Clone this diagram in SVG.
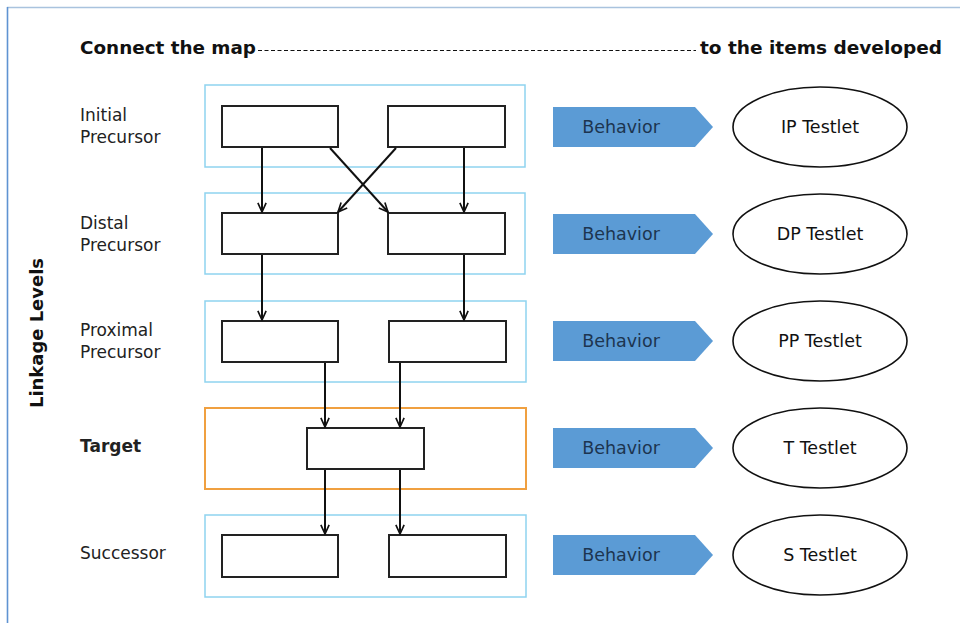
<svg xmlns="http://www.w3.org/2000/svg" width="960" height="623" viewBox="0 0 960 623">
  <style>
    .lbl { font-family: "DejaVu Sans", "Liberation Sans", sans-serif; font-size: 17px; fill: #222; }
    .bold { font-weight: bold; }
    .title { font-family: "DejaVu Sans", "Liberation Sans", sans-serif; font-size: 17px; font-weight: bold; fill: #111; }
    .level { fill: none; stroke: #8fd3ef; stroke-width: 1.5; }
    .level-target { fill: none; stroke: #f0a040; stroke-width: 2; }
    .box { fill: #fff; stroke: #222; stroke-width: 2; }
    .beh { fill: #5b9bd5; }
    .beh-text { font-family: "DejaVu Sans", "Liberation Sans", sans-serif; font-size: 17.5px; fill: #1d3550; text-anchor: middle; }
    .oval { fill: #fff; stroke: #111; stroke-width: 1.6; }
    .oval-text { font-family: "DejaVu Sans", "Liberation Sans", sans-serif; font-size: 17.5px; fill: #111; text-anchor: middle; }
    .conn { stroke: #111; stroke-width: 2; fill: none; marker-end: url(#open); }
  </style>
  <defs>
    <marker id="open" viewBox="0 0 12 12" refX="11" refY="6" markerWidth="11" markerHeight="11" markerUnits="userSpaceOnUse" orient="auto">
      <path d="M1,1.5 L11,6 L1,10.5" fill="none" stroke="#111" stroke-width="1.8"/>
    </marker>
  </defs>

  <rect x="0" y="0" width="960" height="623" fill="#fff"/>
  <!-- frame -->
  <line x1="7" y1="7.5" x2="960" y2="7.5" stroke="#a9c3de" stroke-width="1.3"/>
  <line x1="7.5" y1="7" x2="7.5" y2="623" stroke="#5f93d2" stroke-width="1.6"/>

  <!-- heading -->
  <g id="heading">
    <text class="title" x="80" y="54" textLength="176" lengthAdjust="spacingAndGlyphs">Connect the map</text>
    <line x1="258" y1="50.5" x2="696" y2="50.5" stroke="#111" stroke-width="1.2" stroke-dasharray="4 2.5"/>
    <text class="title" x="700" y="54" textLength="242" lengthAdjust="spacingAndGlyphs">to the items developed</text>
  </g>

  <!-- axis label -->
  <g id="axis-label">
    <text class="title" transform="translate(43,333) rotate(-90)" text-anchor="middle" textLength="150" lengthAdjust="spacingAndGlyphs">Linkage Levels</text>
  </g>

  <!-- level captions -->
  <g id="level-captions">
    <text class="lbl" x="80" y="121">Initial</text>
    <text class="lbl" x="80" y="143">Precursor</text>
    <text class="lbl" x="80" y="229">Distal</text>
    <text class="lbl" x="80" y="251">Precursor</text>
    <text class="lbl" x="80" y="336">Proximal</text>
    <text class="lbl" x="80" y="358">Precursor</text>
    <text class="lbl bold" x="80" y="452">Target</text>
    <text class="lbl" x="80" y="559">Successor</text>
  </g>

  <!-- level: initial precursor -->
  <g id="level-initial">
    <rect class="level" x="205" y="85" width="320" height="82"/>
    <rect class="box" x="222" y="106" width="116" height="41"/>
    <rect class="box" x="388" y="106" width="117" height="41"/>
  </g>

  <!-- level: distal precursor -->
  <g id="level-distal">
    <rect class="level" x="205" y="193" width="320" height="81"/>
    <rect class="box" x="222" y="213" width="116" height="41"/>
    <rect class="box" x="388" y="213" width="117" height="41"/>
  </g>

  <!-- level: proximal precursor -->
  <g id="level-proximal">
    <rect class="level" x="205" y="301" width="321" height="81"/>
    <rect class="box" x="222" y="321" width="116" height="41"/>
    <rect class="box" x="389" y="321" width="117" height="41"/>
  </g>

  <!-- level: target -->
  <g id="level-target">
    <rect class="level-target" x="205" y="408" width="321" height="81"/>
    <rect class="box" x="307" y="428" width="117" height="41"/>
  </g>

  <!-- level: successor -->
  <g id="level-successor">
    <rect class="level" x="205" y="515" width="321" height="82"/>
    <rect class="box" x="222" y="535" width="116" height="42"/>
    <rect class="box" x="389" y="535" width="117" height="42"/>
  </g>

  <!-- connectors between levels -->
  <g id="connectors">
    <line class="conn" x1="262" y1="148" x2="262" y2="212"/>
    <line class="conn" x1="464" y1="148" x2="464" y2="212"/>
    <line class="conn" x1="330" y1="148" x2="388" y2="212"/>
    <line class="conn" x1="396" y1="148" x2="338" y2="212"/>
    <line class="conn" x1="262" y1="255" x2="262" y2="320"/>
    <line class="conn" x1="464" y1="255" x2="464" y2="320"/>
    <line class="conn" x1="325" y1="363" x2="325" y2="427"/>
    <line class="conn" x1="400" y1="363" x2="400" y2="427"/>
    <line class="conn" x1="325" y1="470" x2="325" y2="534"/>
    <line class="conn" x1="400" y1="470" x2="400" y2="534"/>
  </g>

  <!-- behavior arrows -->
  <g id="behavior-ip">
    <path class="beh" d="M553,107 H695 L713,127 L695,147 H553 Z"/>
    <text class="beh-text" x="621" y="133">Behavior</text>
  </g>
  <g id="behavior-dp">
    <path class="beh" d="M553,214 H695 L713,234 L695,254 H553 Z"/>
    <text class="beh-text" x="621" y="240">Behavior</text>
  </g>
  <g id="behavior-pp">
    <path class="beh" d="M553,321 H695 L713,341 L695,361 H553 Z"/>
    <text class="beh-text" x="621" y="347">Behavior</text>
  </g>
  <g id="behavior-t">
    <path class="beh" d="M553,428 H695 L713,448 L695,468 H553 Z"/>
    <text class="beh-text" x="621" y="454">Behavior</text>
  </g>
  <g id="behavior-s">
    <path class="beh" d="M553,535 H695 L713,555 L695,575 H553 Z"/>
    <text class="beh-text" x="621" y="561">Behavior</text>
  </g>

  <!-- testlets -->
  <g id="testlet-ip">
    <ellipse class="oval" cx="820" cy="127" rx="87" ry="40"/>
    <text class="oval-text" x="820" y="133">IP Testlet</text>
  </g>
  <g id="testlet-dp">
    <ellipse class="oval" cx="820" cy="234" rx="87" ry="40"/>
    <text class="oval-text" x="820" y="240">DP Testlet</text>
  </g>
  <g id="testlet-pp">
    <ellipse class="oval" cx="820" cy="341" rx="87" ry="40"/>
    <text class="oval-text" x="820" y="347">PP Testlet</text>
  </g>
  <g id="testlet-t">
    <ellipse class="oval" cx="820" cy="448" rx="87" ry="40"/>
    <text class="oval-text" x="820" y="454">T Testlet</text>
  </g>
  <g id="testlet-s">
    <ellipse class="oval" cx="820" cy="555" rx="87" ry="40"/>
    <text class="oval-text" x="820" y="561">S Testlet</text>
  </g>
</svg>
